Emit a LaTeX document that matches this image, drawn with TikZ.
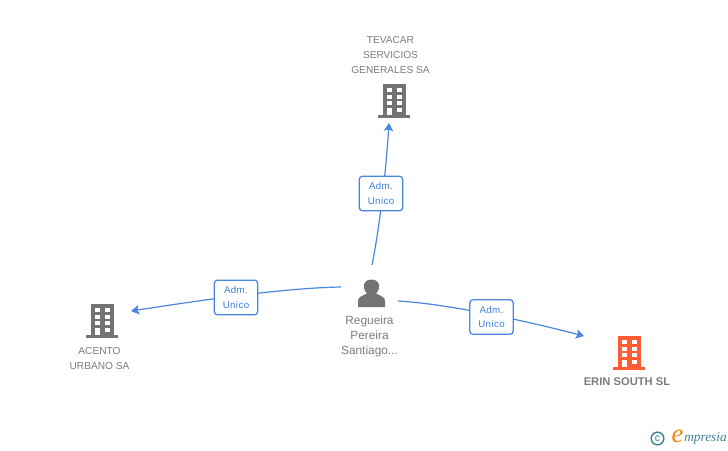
\documentclass[tikz,border=0pt]{standalone}
\usepackage{fontspec}
\setmainfont{Liberation Sans}
\newfontfamily\logofont{Liberation Serif}
\newfontfamily\spacedfont[LetterSpace=4]{Liberation Sans}
\usetikzlibrary{arrows.meta}
\definecolor{linkblue}{HTML}{4A86E0}
\definecolor{labelblue}{HTML}{3F7FDD}
\definecolor{icongray}{HTML}{737373}
\definecolor{textgray}{HTML}{7C7C7C}
\definecolor{erin}{HTML}{FF5C33}
\definecolor{logoteal}{HTML}{3F8296}
\definecolor{logoorange}{HTML}{F0860F}
\tikzset{
  x=0.75pt,y=-0.75pt,
  linkarrow/.style={draw=linkblue,line width=0.9pt,-{Stealth[length=6pt,width=7pt,inset=1.2pt]}},
  rolebox/.style={draw=linkblue,fill=white,line width=0.95pt,rounded corners=2.4pt,minimum width=32.5pt,minimum height=26pt,inner sep=0pt,align=center,text=labelblue,font=\spacedfont\fontsize{7.3}{11}\selectfont},
  caption/.style={align=center,text=textgray,inner sep=0pt,font=\fontsize{7.6}{11.25}\selectfont},
  personcaption/.style={caption,font=\fontsize{8.9}{11.25}\selectfont},
  boldcaption/.style={caption,font=\fontsize{8.4}{11.25}\selectfont\bfseries},
  building/.pic={
    \fill[pic actions] (-11,-16.5) rectangle (11.5,16);
    \fill[pic actions] (-16,14) rectangle (16,17);
    \foreach \r in {-12.5,-6,0.5}{
      \fill[white] (-7.5,\r) rectangle (-2.5,\r+4);
      \fill[white] (2.5,\r) rectangle (7.5,\r+4);
    }
    \fill[white] (-7.5,7.5) rectangle (-2.5,14);
    \fill[white] (2.5,7.5) rectangle (7.5,11.5);
  }
}
\begin{document}
\begin{tikzpicture}
\useasboundingbox (0,0) rectangle (728,450);
% buildings
\pic[fill=icongray] at (394,100.5) {building};
\pic[fill=icongray] at (102,320.5) {building};
\pic[fill=erin] at (629,352.5) {building};
% person
\fill[icongray] (358,307) -- (358,301) .. controls (358,297) and (362,296) .. (367,293.5)
  .. controls (362,288) and (362,280) .. (371.5,279.5)
  .. controls (381,280) and (381,288) .. (376,293.5)
  .. controls (381,296) and (385,297) .. (385,301) -- (385,307) -- cycle;
% captions
\node[caption] (tevacar) at (390.5,55.5) {TEVACAR\\SERVICIOS\\GENERALES SA};
\node[caption] (acento) at (99.5,358.5) {ACENTO\\URBANO SA};
\node[personcaption] (regueira) at (369.5,336.5) {Regueira\\Pereira\\Santiago...};
\node[boldcaption] (erinsouth) at (627,382) {ERIN SOUTH SL};
% connector ends
\coordinate (pt) at (372,265);
\coordinate (tt) at (389,123);
\coordinate (pl) at (341,287);
\coordinate (tl) at (131,311);
\coordinate (pr) at (398,301);
\coordinate (tr) at (584,336);
% connectors, then the role boxes on top
\draw[linkarrow] (pt) .. controls (380,225) and (386,170) .. (tt);
\draw[linkarrow] (pl) .. controls (280,288) and (190,302) .. (tl);
\draw[linkarrow] (pr) .. controls (450,304) and (530,322) .. (tr);
\node[rolebox] (r1) at (381,193.5) {Adm.\\Unico};
\node[rolebox] (r2) at (236,297.5) {Adm.\\Unico};
\node[rolebox] (r3) at (491.5,317) {Adm.\\Unico};
% logo
\node[circle,draw=logoteal,line width=1.1pt,text=logoteal,inner sep=0pt,minimum size=9.5pt,font=\fontsize{8}{8}\selectfont] (copy) at (657.5,438.5) {c};
\node[inner sep=0pt,text=logoorange,font=\logofont\itshape\fontsize{20}{20}\selectfont] (elogo) at (677.5,436) {e};
\node[anchor=west,inner sep=0pt,text=logoteal,font=\logofont\itshape\fontsize{10}{10}\selectfont] (wordlogo) at (684,438.5) {mpresia};
\end{tikzpicture}
\end{document}
